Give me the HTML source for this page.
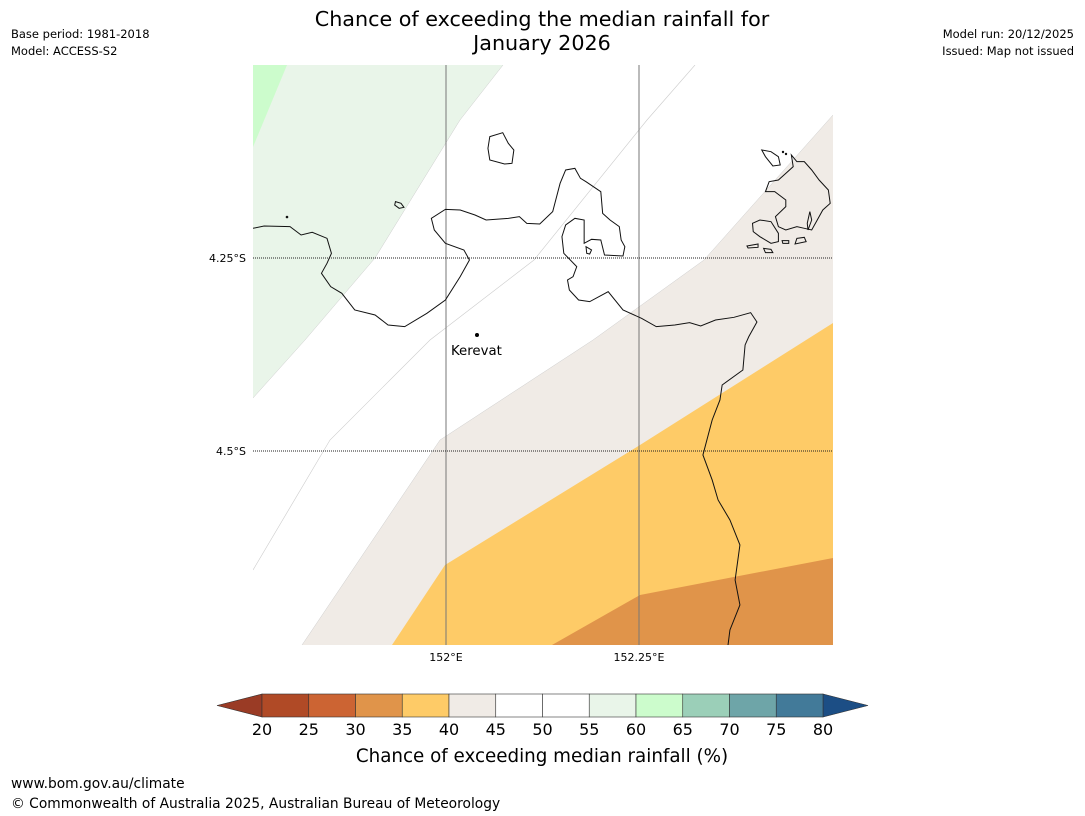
<!DOCTYPE html>
<html><head><meta charset="utf-8"><style>
body{margin:0;background:#fff;width:1085px;height:816px;overflow:hidden;font-family:"Liberation Sans","DejaVu Sans",sans-serif;}
svg{position:absolute;left:0;top:0}
</style></head><body>
<svg width="1085" height="816" font-family="DejaVu Sans, Liberation Sans, sans-serif">
<text x="542" y="26" font-size="20.7" text-anchor="middle">Chance of exceeding the median rainfall for</text>
<text x="542" y="50" font-size="20.7" text-anchor="middle">January 2026</text>
<text x="11" y="38" font-size="11.5">Base period: 1981-2018</text>
<text x="11" y="55" font-size="11.5">Model: ACCESS-S2</text>
<text x="1074" y="38" font-size="11.5" text-anchor="end">Model run: 20/12/2025</text>
<text x="1074" y="55" font-size="11.5" text-anchor="end">Issued: Map not issued</text>

<g>
<clipPath id="mc"><rect x="253" y="65" width="580" height="580"/></clipPath>
<g clip-path="url(#mc)">
<rect x="253" y="65" width="580" height="580" fill="#fff"/>
<polygon points="253,65 503,65 460,120 375,258 305,340 253,398" fill="#e9f5e9"/>
<polygon points="253,65 287,65 253,147" fill="#ccfccc"/>
<polygon points="833,115 704,260 593,340 440,440 302,645 833,645" fill="#f0ebe6"/>
<polygon points="833,323 640,445 445,565 392,645 833,645" fill="#fecb67"/>
<polygon points="833,558 640,595 552,645 833,645" fill="#e0944a"/>
<polyline points="695,65 647,120 534,260 430,340 330,440 253,570" fill="none" stroke="#ccc" stroke-width="0.6"/>
<polyline points="503,65 460,120 375,258 305,340 253,398" fill="none" stroke="#ccc" stroke-width="0.5"/>
<polyline points="833,115 704,260 593,340 440,440 302,645" fill="none" stroke="#ccc" stroke-width="0.5"/>
<line x1="446" y1="65" x2="446" y2="645" stroke="#777" stroke-width="1"/>
<line x1="639" y1="65" x2="639" y2="645" stroke="#777" stroke-width="1"/>
<line x1="253" y1="258" x2="833" y2="258" stroke="#222" stroke-width="1" stroke-dasharray="1,1"/>
<line x1="253" y1="451" x2="833" y2="451" stroke="#222" stroke-width="1" stroke-dasharray="1,1"/>
<g transform="translate(253,120) scale(0.37,0.3333)" fill="none" stroke="#111" stroke-width="1" >
<path vector-effect="non-scaling-stroke" d="M0,325 L30,318 L100,320 L130,345 L160,337 L200,355 L212,400 L200,430 L185,460 L210,500 L240,520 L275,570 L330,585 L365,615 L410,620 L470,580 L520,540 L560,470 L585,420 L570,390 L520,370 L490,330 L482,295 L520,268 L560,270 L600,285 L630,300 L690,295 L720,290 L740,310 L775,312 L810,275 L830,190 L845,150 L870,145 L885,175 L900,185 L940,215 L945,280 L965,300 L990,320 L995,360 L1005,380 L1000,408 L950,405 L940,360 L915,358 L895,370 L895,300 L870,295 L845,315 L835,350 L840,400 L875,440 L865,470 L850,480 L855,510 L880,540 L910,545 L960,515 L1000,570 L1050,595 L1090,620 L1140,615 L1180,608 L1210,618 L1250,600 L1300,592 L1345,578 L1362,606 L1340,650 L1330,675 L1324,750 L1268,795 L1262,840 L1241,900 L1216,1005 L1241,1080 L1257,1140 L1289,1200 L1316,1275 L1303,1380 L1316,1455 L1289,1530 L1281,1600"/>
<path vector-effect="non-scaling-stroke" d="M640,50 L675,38 L690,70 L705,90 L700,130 L680,132 L640,120 L635,85 Z"/>
<path vector-effect="non-scaling-stroke" d="M385,245 L400,250 L408,262 L395,265 L383,255 Z"/>
<path vector-effect="non-scaling-stroke" d="M900,380 L915,390 L910,402 L902,400 Z"/>
<path vector-effect="non-scaling-stroke" d="M1375,90 L1400,95 L1420,110 L1425,135 L1405,138 L1385,110 Z"/>
<path vector-effect="non-scaling-stroke" d="M1455,105 L1470,125 L1490,125 L1510,150 L1530,180 L1555,210 L1560,250 L1540,270 L1525,300 L1510,330 L1490,325 L1470,320 L1440,330 L1420,320 L1412,290 L1440,260 L1440,240 L1410,215 L1385,215 L1395,185 L1420,180 L1440,160 L1460,140 Z"/>
<path vector-effect="non-scaling-stroke" d="M1350,310 L1370,300 L1400,305 L1420,340 L1420,365 L1400,370 L1370,350 L1352,335 Z"/>
<path vector-effect="non-scaling-stroke" d="M1335,378 L1365,372 L1365,382 L1338,384 Z"/>
<path vector-effect="non-scaling-stroke" d="M1380,385 L1400,388 L1405,398 L1385,398 Z"/>
<path vector-effect="non-scaling-stroke" d="M1430,362 L1448,362 L1448,370 L1432,370 Z"/>
<path vector-effect="non-scaling-stroke" d="M1470,355 L1490,352 L1495,365 L1465,372 Z"/>
<path vector-effect="non-scaling-stroke" d="M1505,275 L1510,300 L1500,330 L1498,310 Z"/>
</g>
<circle cx="287" cy="217" r="1.3" fill="#111"/>
<circle cx="783" cy="152" r="1.2" fill="#111"/><circle cx="786" cy="154" r="1.2" fill="#111"/>
</g>
</g>
<circle cx="477" cy="335" r="2" fill="#000"/>
<text x="451" y="355" font-size="13.3">Kerevat</text>
<text x="246" y="262" font-size="11" text-anchor="end">4.25°S</text>
<text x="246" y="455" font-size="11" text-anchor="end">4.5°S</text>
<text x="446" y="661" font-size="11" text-anchor="middle">152°E</text>
<text x="639" y="661" font-size="11" text-anchor="middle">152.25°E</text>

<g id="cbar"></g>
<text x="542" y="762" font-size="18.3" text-anchor="middle">Chance of exceeding median rainfall (%)</text>
<text x="11" y="788" font-size="13.8">www.bom.gov.au/climate</text>
<text x="11" y="808" font-size="13.8">© Commonwealth of Australia 2025, Australian Bureau of Meteorology</text>
</svg>
<script>
const levels=[20,25,30,35,40,45,50,55,60,65,70,75,80];
const binColors=["#b04a26","#cc6433","#e0944a","#fecb67","#f0ebe6","#ffffff","#ffffff","#e9f5e9","#ccfccc","#9bcfb8","#6ea5a8","#427a99"];
const underColor="#9a3b25", overColor="#1c4e85";
const NS="http://www.w3.org/2000/svg";
const g=document.getElementById('cbar');
const x0=262,x1=823,y0=694,y1=717;
const xs=v=>x0+(v-levels[0])/(levels[levels.length-1]-levels[0])*(x1-x0);
function mk(t,a){const e=document.createElementNS(NS,t);for(const k in a)e.setAttribute(k,a[k]);g.appendChild(e);return e;}
const lt=mk('polygon',{points:`${x0},${y0} ${x0},${y1} 217,${(y0+y1)/2}`,fill:underColor,stroke:'#333','stroke-width':0.6});


const rt=mk('polygon',{points:`${x1},${y0} ${x1},${y1} 868,${(y0+y1)/2}`,fill:overColor,stroke:'#333','stroke-width':0.6});


binColors.forEach((c,i)=>{
  const r=mk('rect',{x:xs(levels[i]),y:y0,width:xs(levels[i+1])-xs(levels[i]),height:y1-y0,fill:c,stroke:'#333','stroke-width':0.6});
  
  
});
levels.forEach(v=>{
  const t=mk('text',{x:xs(v),y:735,'font-size':16,'text-anchor':'middle'});
  t.textContent=v;
  
  
});
</script>
</body></html>
